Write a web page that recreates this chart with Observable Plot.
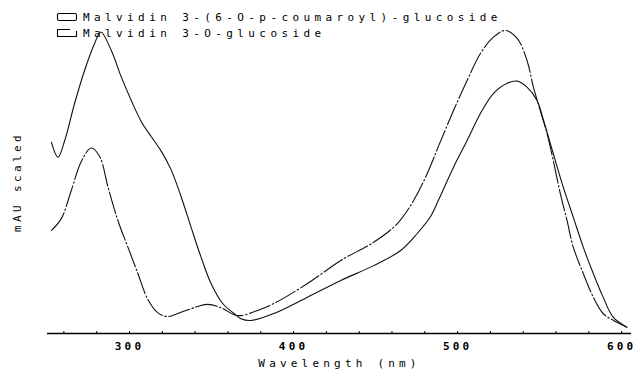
<!DOCTYPE html>
<html>
<head>
<meta charset="utf-8">
<script src="https://cdn.jsdelivr.net/npm/d3@7"></script>
<script src="https://cdn.jsdelivr.net/npm/@observablehq/plot@0.6"></script>
<style>
  html, body { margin: 0; padding: 0; background: #fff; }
  #wrap { position: relative; width: 641px; height: 370px; }
  #legend { position: absolute; left: 0; top: 0; pointer-events: none; }
  svg text { font-family: "DejaVu Sans Mono", monospace; }
</style>
</head>
<body>
<div id="wrap"></div>
<script>
// Series names
const seriesNames = ["Malvidin 3-(6-O-p-coumaroyl)-glucoside", "Malvidin 3-O-glucoside"];

// Malvidin 3-(6-O-p-coumaroyl)-glucoside (solid)
const coumaroylNm = [252.4, 256.4, 260.5, 266.5, 272.6, 278.7, 282.5, 288.9, 295.0, 301.0, 307.1, 313.2, 319.3, 325.4, 331.4, 337.5, 343.6, 349.7, 356.8, 363.7, 367.9, 374.0, 388.0, 408.5, 428.8, 448.8, 465.3, 475.4, 483.5, 488.5, 497.5, 505.8, 513.9, 521.8, 530.2, 536.3, 542.3, 548.4, 552.4, 558.3, 564.4, 570.5, 576.6, 582.7, 588.7, 594.8, 603.2];
const coumaroylVal = [63.1, 58.2, 63.7, 75.9, 86.8, 95.7, 99.5, 93.4, 84.6, 77.0, 70.0, 65.0, 60.2, 54.0, 45.2, 35.1, 25.2, 16.5, 9.9, 6.6, 4.9, 4.3, 6.6, 12.0, 17.5, 22.4, 27.4, 33.0, 38.6, 44.2, 54.9, 63.7, 72.6, 79.2, 82.6, 83.3, 81.3, 76.9, 70.3, 59.4, 48.3, 38.4, 28.5, 19.8, 12.0, 5.4, 2.1];

// Malvidin 3-O-glucoside (dash-dot)
const glucosideNm = [252.4, 258.5, 264.5, 270.6, 276.7, 281.8, 286.9, 292.9, 299.0, 305.1, 311.2, 317.3, 323.4, 331.4, 341.6, 347.7, 355.8, 363.7, 367.9, 378.1, 388.0, 408.5, 428.8, 448.8, 463.3, 473.2, 481.5, 488.5, 497.5, 505.8, 513.9, 521.8, 529.1, 536.3, 542.3, 546.2, 550.4, 554.5, 558.3, 562.6, 566.7, 570.5, 576.6, 582.7, 588.7, 597.1, 603.2];
const glucosideVal = [34.0, 38.0, 47.2, 56.8, 61.2, 58.4, 48.3, 37.3, 28.5, 19.8, 11.2, 6.8, 5.6, 7.0, 8.9, 9.6, 8.5, 6.2, 5.9, 7.6, 9.9, 16.5, 24.1, 30.1, 36.3, 43.9, 52.8, 62.0, 73.6, 83.5, 92.4, 97.8, 100.0, 97.4, 90.1, 81.3, 73.6, 66.0, 57.1, 46.2, 37.3, 28.5, 19.8, 12.0, 6.6, 3.7, 2.1];

// Axis ticks
const xTickLabels = [300, 400, 500, 600];
const xMinorTicks = [260, 280, 300, 320, 340, 360, 380, 400, 420, 440, 460, 480, 500, 520, 540, 560, 580, 600];
const xLabel = "Wavelength (nm)";
const yLabel = "mAU scaled";

const coumaroyl = coumaroylNm.map((x, i) => ({x, y: coumaroylVal[i]}));
const glucoside = glucosideNm.map((x, i) => ({x, y: glucosideVal[i]}));

const chart = Plot.plot({
  width: 641,
  height: 370,
  marginLeft: 47,
  marginRight: 10,
  marginTop: 30,
  marginBottom: 37,
  style: {fontFamily: "DejaVu Sans Mono, monospace", background: "#fff", color: "#000"},
  x: {domain: [250, 606]},
  y: {domain: [0, 100]},
  marks: [
    Plot.ruleY([0], {stroke: "#000", strokeWidth: 1.6}),
    Plot.axisX({ticks: xMinorTicks, tickSize: -2, text: null, label: null, stroke: "#000"}),
    Plot.axisX({ticks: xTickLabels, tickSize: 0, tickPadding: 9, fontSize: 11, fontWeight: "bold",
      label: xLabel, labelAnchor: "center", labelArrow: "none", labelOffset: 33}),
    Plot.axisY({ticks: [], label: yLabel, labelAnchor: "center", labelArrow: "none", labelOffset: 34}),
    Plot.line(glucoside, {x: "x", y: "y", curve: "catmull-rom", stroke: "#111", strokeWidth: 1.1,
      strokeDasharray: "22,2.5,1.5,2.5"}),
    Plot.line(coumaroyl, {x: "x", y: "y", curve: "catmull-rom", stroke: "#111", strokeWidth: 1.1})
  ]
});

// Style axis texts: spaced monospace like the plotter font
d3.select(chart).selectAll("g[aria-label='x-axis tick label'] text")
  .style("letter-spacing", "3.2px");
d3.select(chart).selectAll("g[aria-label='x-axis label'] text")
  .style("font-size", "11px").style("font-weight", "normal").style("letter-spacing", "4.2px");
d3.select(chart).selectAll("g[aria-label='y-axis label'] text")
  .style("font-size", "11px").style("font-weight", "normal").style("letter-spacing", "3.4px");

const wrap = document.getElementById("wrap");
wrap.appendChild(chart);

// Legend overlay (top-left, overlapping the plot like the original)
const leg = d3.create("svg").attr("id", "legend").attr("width", 641).attr("height", 50);
leg.append("rect").attr("x", 57.5).attr("y", 13.5).attr("width", 19).attr("height", 7)
  .attr("rx", 1.5).attr("fill", "none").attr("stroke", "#000").attr("stroke-width", 1.1);
leg.append("path").attr("d", "M70,29.5 H57.5 V36.5 H76.5 V31")
  .attr("fill", "none").attr("stroke", "#000").attr("stroke-width", 1.1);
leg.selectAll("text.l").data(seriesNames).join("text")
  .attr("x", 83).attr("y", (d, i) => 21 + i * 16)
  .attr("font-size", 11).attr("fill", "#000")
  .style("letter-spacing", "4.4px")
  .text(d => d);
wrap.appendChild(leg.node());
</script>
</body>
</html>
